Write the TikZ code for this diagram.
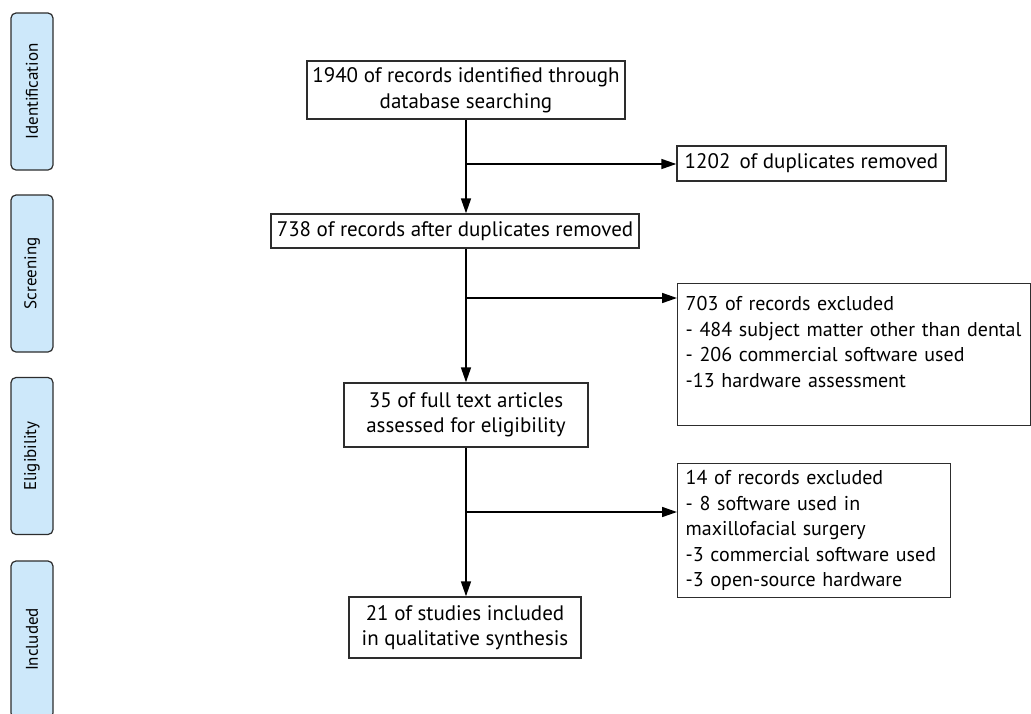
\documentclass[tikz,border=0pt]{standalone}
\usepackage{fontspec}
\setmainfont{PT Sans}
\usetikzlibrary{arrows.meta}

\definecolor{stagefill}{RGB}{205,232,250}
\definecolor{edgegray}{RGB}{45,45,45}

\tikzset{
  box/.style={draw=edgegray, line width=1.4pt, inner sep=0pt, align=center,
    font=\fontsize{21}{25.5}\selectfont},
  listbox/.style={box, align=left, anchor=north west, inner xsep=8pt,
    font=\fontsize{20}{25.5}\selectfont},
  stage/.style={draw=edgegray, fill=stagefill, rounded corners=5pt, line width=1.2pt,
    rotate=90, minimum width=157pt, minimum height=42pt, inner sep=0pt,
    font=\fontsize{17}{20}\selectfont},
  flow/.style={line width=1.6pt, -{Triangle[length=15pt,width=10pt]}}
}

\begin{document}
\begin{tikzpicture}[x=1pt,y=-1pt]
    \useasboundingbox (0,0) rectangle (1031,713);

    % stages on the left
    \node[stage] (ident) at (32,91.5) {Identification};
    \node[stage] (screen) at (32,273.5) {Screening};
    \node[stage] (elig) at (32,456) {Eligibility};
    \node[stage] (incl) at (32,639.5) {Included};

    % main column
    \node[box, minimum width=318pt, minimum height=58pt] (found) at (466,90)
        {1940 of records identified through\\database searching};
    \node[box, minimum width=368pt, minimum height=34pt] (nodup) at (455,231)
        {738 of records after duplicates removed};
    \node[box, minimum width=244pt, minimum height=64pt] (full) at (466,415)
        {35 of full text articles\\assessed for eligibility};
    \node[box, minimum width=232pt, minimum height=61pt] (final) at (465,627.5)
        {21 of studies included\\in qualitative synthesis};

    % side boxes
    \node[box, minimum width=269pt, minimum height=35pt] (dup) at (811.5,163.5)
        {1202\, of duplicates removed};
    \node[listbox, text width=337pt, minimum height=142pt] (excl) at (677,283)
        {703 of records excluded\\
         - 484 subject matter other than dental\\
         - 206 commercial software used\\
         -13 hardware assessment\\ ~};
    \node[listbox, text width=257pt, minimum height=134pt] (rest) at (677,463)
        {14 of records excluded\\
         - 8 software used in\\
         maxillofacial surgery\\
         -3 commercial software used\\
         -3 open-source hardware};

    % connectors
    \coordinate (b1) at (466,164);
    \coordinate (b2) at (466,298);
    \coordinate (b3) at (466,512);
    \draw[flow] (found.south) -- (found.south |- nodup.north);
    \draw[flow] (b1) -- (b1 -| dup.west);
    \draw[flow] (found.south |- nodup.south) -- (full.north);
    \draw[flow] (b2) -- (b2 -| excl.west);
    \draw[flow] (full.south) -- (full.south |- final.north);
    \draw[flow] (b3) -- (b3 -| rest.west);

\end{tikzpicture}
\end{document}
